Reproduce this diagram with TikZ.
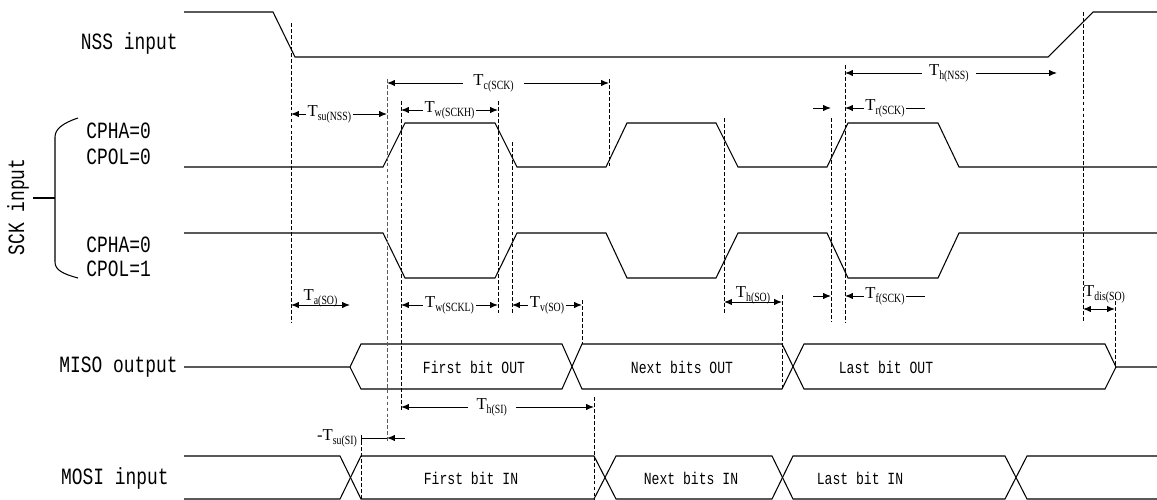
\documentclass[tikz,border=0pt]{standalone}
\usepackage{fontspec}
\usepackage{graphicx}
\usetikzlibrary{arrows.meta}
\newfontfamily\monofont{Liberation Mono}
\newfontfamily\serfont{Liberation Serif}
\newcommand{\tall}[1]{\scalebox{1}[1.3]{#1}}
\newcommand{\tm}[2]{{\serfont\fontsize{9.5}{10}\selectfont #1\raisebox{-2.2pt}{\scalebox{0.9}[1.15]{\fontsize{6.2}{7}\selectfont #2}}}}
\tikzset{
  sig/.style={line width=0.6pt},
  guide/.style={line width=0.45pt,dash pattern=on 2.2pt off 1.2pt},
  dim/.style={<->,line width=0.5pt},
  tlabel/.style={fill=white,inner sep=1pt},
  lbl/.style={font=\monofont\fontsize{10.2}{12}\selectfont,inner sep=0pt},
  bitlbl/.style={font=\monofont\fontsize{7.45}{9}\selectfont,inner sep=0pt}
}

\begin{document}
\begin{tikzpicture}[x=0.02cm,y=-0.02cm,>={Latex[length=4.5pt,width=3.6pt]}]
                \useasboundingbox (0, 0) rectangle (1157, 500);
                % signal names
                \node[lbl,anchor=east](nss)at(178, 43){\tall{NSS input}};
                \node[lbl,anchor=west](cpha0)at(86, 131){\tall{CPHA=0}};
                \node[lbl,anchor=west](cpol0)at(86, 157){\tall{CPOL=0}};
                \node[lbl,anchor=west](cpha1)at(86, 245){\tall{CPHA=0}};
                \node[lbl,anchor=west](cpol1)at(86, 269){\tall{CPOL=1}};
                \node[lbl,rotate=90](sck)at(18, 207){\tall{SCK input}};
                \node[lbl,anchor=east](miso)at(178, 367){\tall{MISO output}};
                \node[lbl,anchor=east](mosi)at(169, 478){\tall{MOSI input}};
                \draw[sig] (78, 118) .. controls (63, 123) and (55, 129) .. (55, 137) -- (55, 262)
                    .. controls (55, 270) and (63, 274) .. (78, 278);
                \draw[sig] (33, 198) -- (55, 198);
                % waveforms
                \draw[sig] (184, 12) -- (273, 12) -- (295, 57) -- (1048, 57) -- (1093, 12) -- (1157, 12);
                \draw[sig] (184, 167) -- (383, 167) -- (405, 123) -- (495, 123) -- (517, 167) -- (606, 167)
                    -- (627, 123) -- (716, 123) -- (738, 167) -- (827, 167) -- (848, 123) -- (938, 123)
                    -- (959, 167) -- (1157, 167);
                \draw[sig] (184, 233) -- (383, 233) -- (405, 278) -- (495, 278) -- (517, 233) -- (606, 233)
                    -- (627, 278) -- (716, 278) -- (738, 233) -- (827, 233) -- (848, 278) -- (938, 278)
                    -- (959, 233) -- (1157, 233);
                \draw[sig] (184, 367) -- (350, 367) -- (361, 344) -- (562, 344) -- (582, 389) -- (782, 389)
                    -- (804, 344) -- (1105, 344) -- (1116, 367) -- (1157, 367);
                \draw[sig] (350, 367) -- (361, 389) -- (562, 389) -- (582, 344) -- (782, 344) -- (804, 389)
                    -- (1105, 389) -- (1116, 367);
                \draw[sig] (184, 456) -- (340, 456) -- (361, 499) -- (594, 499) -- (616, 456) -- (772, 456)
                    -- (793, 499) -- (1005, 499) -- (1027, 456) -- (1157, 456);
                \draw[sig] (184, 499) -- (340, 499) -- (361, 456) -- (594, 456) -- (616, 499) -- (772, 499)
                    -- (793, 456) -- (1005, 456) -- (1027, 499) -- (1157, 499);
                \node[bitlbl](fbo)at(474, 367){\tall{First bit OUT}};
                \node[bitlbl](nbo)at(682, 367){\tall{Next bits OUT}};
                \node[bitlbl](lbo)at(886, 367){\tall{Last bit OUT}};
                \node[bitlbl](fbi)at(471, 478){\tall{First bit IN}};
                \node[bitlbl](nbi)at(691, 478){\tall{Next bits IN}};
                \node[bitlbl](lbi)at(860, 478){\tall{Last bit IN}};
                % guide lines
                \foreach \x/\a/\b in {291/23/322, 401/101/410, 498/101/313, 512/142/313, 582/300/344,
                    609/79/168, 724/118/313, 782/295/389, 831/118/322, 845/65/322, 1083/12/322,
                    1115/295/367, 361/435/500, 594/397/500}
                    \draw[guide] (\x, \a) -- (\x, \b);
                \draw[guide,black!65] (387, 79) -- (387, 442);
                % timings
                \draw[dim] (291, 114) -- (387, 114) node[pos=0.4,tlabel]{\tm{T}{su(NSS)}};
                \draw[dim] (387, 83) -- (609, 83) node[pos=0.48,tlabel,inner xsep=6pt]{\tm{T}{c(SCK)}};
                \draw[dim] (401, 110) -- (498, 110) node[midway,tlabel]{\tm{T}{w(SCKH)}};
                \draw[dim] (845, 73) -- (1057, 73) node[pos=0.49,tlabel,inner xsep=4pt]{\tm{T}{h(NSS)}};
                \draw[->,line width=0.5pt] (813, 108) -- (831, 108);
                \draw[<-,line width=0.5pt] (845, 108) -- (925, 108) node[midway,tlabel]{\tm{T}{r(SCK)}};
                \draw[dim] (291, 305) -- (350, 305) node[midway,above=-2pt,inner sep=0.5pt]{\tm{T}{a(SO)}};
                \draw[dim] (401, 305) -- (498, 305) node[midway,tlabel]{\tm{T}{w(SCKL)}};
                \draw[dim] (512, 305) -- (582, 305) node[midway,tlabel]{\tm{T}{v(SO)}};
                \draw[dim] (724, 302) -- (782, 302) node[midway,above=-2pt,inner sep=0.5pt]{\tm{T}{h(SO)}};
                \draw[->,line width=0.5pt] (813, 296) -- (831, 296);
                \draw[<-,line width=0.5pt] (845, 296) -- (925, 296) node[midway,tlabel]{\tm{T}{f(SCK)}};
                \draw[dim] (1083, 309) -- (1115, 309);
                \node[anchor=south west,inner sep=0.5pt](tdis)at(1083, 304){\tm{T}{dis(SO)}};
                \draw[dim] (401, 407) -- (594, 407) node[pos=0.47,tlabel,inner xsep=5pt]{\tm{T}{h(SI)}};
                \draw[{Bar[width=3pt]}-,line width=0.5pt] (361, 438) -- (387, 438);
                \draw[<-,line width=0.5pt] (387, 438) -- (405, 438);
                \node[anchor=east,inner sep=1pt](tsusi)at(359, 438){\tm{-T}{su(SI)}};
            \end{tikzpicture}
\end{document}
